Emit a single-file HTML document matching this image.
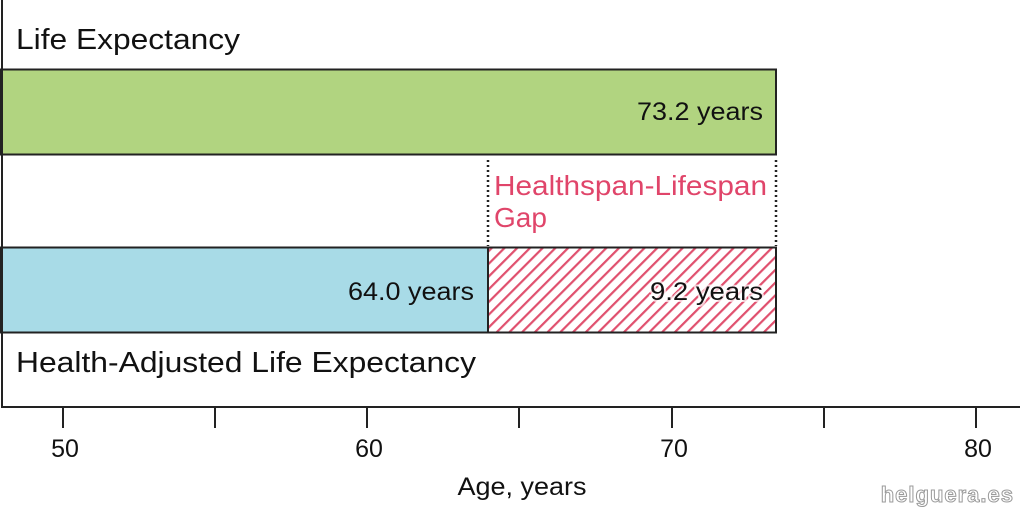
<!DOCTYPE html>
<html><head><meta charset="utf-8"><style>
html,body{margin:0;padding:0;background:#fff;}
svg{display:block;font-family:"Liberation Sans",Arial,sans-serif;}
</style></head><body>
<svg width="1024" height="512" viewBox="0 0 1024 512" xmlns="http://www.w3.org/2000/svg">
<defs>
<pattern id="h" patternUnits="userSpaceOnUse" width="9" height="9" patternTransform="rotate(45)">
<rect width="9" height="9" fill="#fff"/>
<rect x="0" y="0" width="2.2" height="9" fill="#e0506e"/>
</pattern>
</defs>
<rect width="1024" height="512" fill="#fff"/>
<text x="16" y="49" font-size="29" fill="#111" textLength="224" lengthAdjust="spacingAndGlyphs">Life Expectancy</text>
<rect x="1" y="69.5" width="775" height="85" fill="#b1d480" stroke="#222" stroke-width="2"/>
<text x="637" y="120" font-size="25" fill="#111" textLength="126" lengthAdjust="spacingAndGlyphs">73.2 years</text>
<line x1="488" y1="160" x2="488" y2="246" stroke="#222" stroke-width="2.5" stroke-dasharray="2,3"/>
<line x1="776" y1="160" x2="776" y2="246" stroke="#222" stroke-width="2.5" stroke-dasharray="2,3"/>
<text x="494" y="195" font-size="28" fill="#e0456a" textLength="273" lengthAdjust="spacingAndGlyphs">Healthspan-Lifespan</text>
<text x="494" y="227" font-size="28" fill="#e0456a">Gap</text>
<rect x="1" y="247.5" width="487" height="85" fill="#a8dbe7" stroke="#222" stroke-width="2"/>
<rect x="488" y="247.5" width="288" height="85" fill="url(#h)" stroke="#222" stroke-width="2"/>
<text x="348" y="300" font-size="25" fill="#111" textLength="126" lengthAdjust="spacingAndGlyphs">64.0 years</text>
<text x="650" y="300" font-size="25" fill="#111" textLength="113" lengthAdjust="spacingAndGlyphs" stroke="#fff" stroke-width="4" stroke-opacity="0.7" paint-order="stroke">9.2 years</text>
<text x="16" y="372" font-size="29" fill="#111" textLength="460" lengthAdjust="spacingAndGlyphs">Health-Adjusted Life Expectancy</text>
<line x1="2" y1="0" x2="2" y2="407" stroke="#222" stroke-width="2"/>
<line x1="1" y1="407" x2="1020" y2="407" stroke="#222" stroke-width="2"/>
<g stroke="#222" stroke-width="2">
<line x1="63" y1="407" x2="63" y2="428"/>
<line x1="215" y1="407" x2="215" y2="428"/>
<line x1="367" y1="407" x2="367" y2="428"/>
<line x1="519" y1="407" x2="519" y2="428"/>
<line x1="672" y1="407" x2="672" y2="428"/>
<line x1="824" y1="407" x2="824" y2="428"/>
<line x1="976" y1="407" x2="976" y2="428"/>
</g>
<g font-size="25" fill="#111" text-anchor="middle">
<text x="65" y="457">50</text>
<text x="369" y="457">60</text>
<text x="674" y="457">70</text>
<text x="978" y="457">80</text>
<text x="522" y="495" textLength="129" lengthAdjust="spacingAndGlyphs">Age, years</text>
</g>
<text x="1014" y="502" font-size="22" font-weight="bold" fill="#fff" stroke="#999" stroke-width="1" text-anchor="end" letter-spacing="1">helguera.es</text>
</svg>
</body></html>
